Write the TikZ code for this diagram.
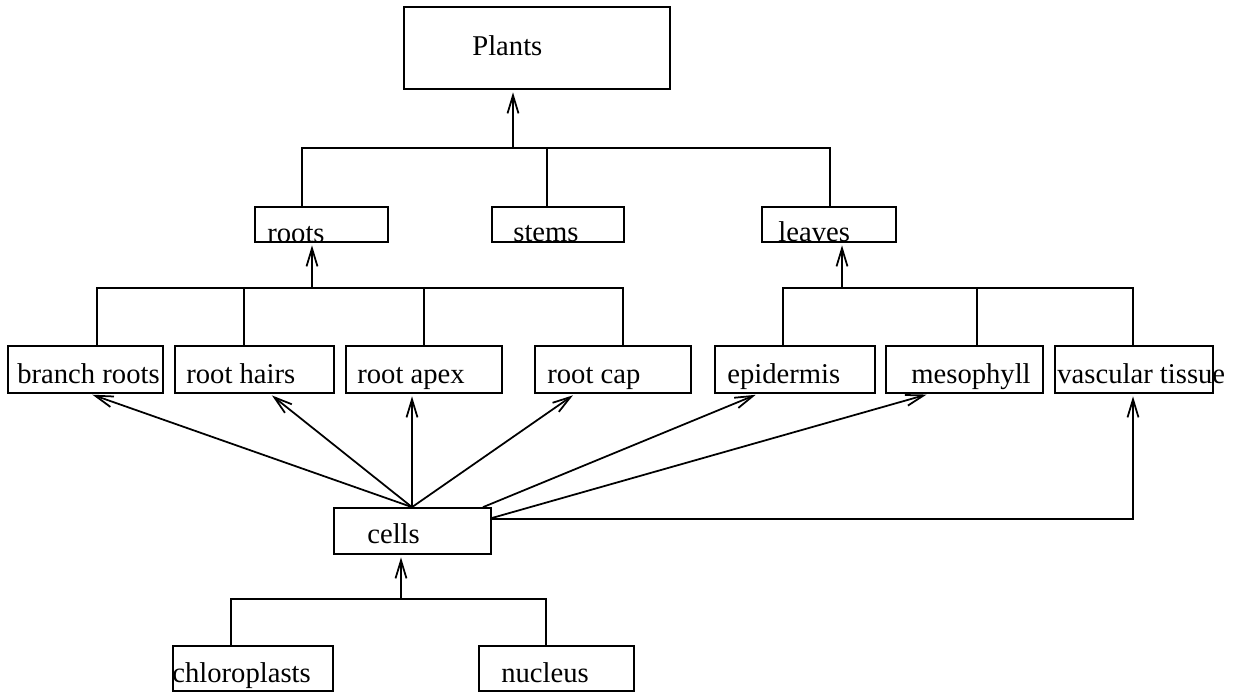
\documentclass[tikz,border=0pt]{standalone}
\usepackage{fontspec}
\setmainfont{Liberation Serif}
\usetikzlibrary{arrows.meta}
\begin{document}
\begin{tikzpicture}[x=0.02cm,y=-0.02cm,
  box/.style={draw, line width=1pt, inner sep=0pt},
  word/.style={anchor=base west, inner sep=0pt, font=\fontsize{16.3}{19}\selectfont},
  link/.style={line width=1pt},
  arr/.style={line width=1pt, shorten >=0.05cm, -{Straight Barb[length=3.6mm,width=2.2mm]}}]
\useasboundingbox (0,0) rectangle (1236,694);

% boxes
\node[box, minimum width=5.32cm, minimum height=1.64cm] (plants) at (537,48) {};
\node[box, minimum width=2.66cm, minimum height=0.70cm] (roots) at (321.5,224.5) {};
\node[box, minimum width=2.64cm, minimum height=0.70cm] (stems) at (558,224.5) {};
\node[box, minimum width=2.68cm, minimum height=0.70cm] (leaves) at (829,224.5) {};
\node[box, minimum width=3.10cm, minimum height=0.94cm] (branch) at (85.5,369.5) {};
\node[box, minimum width=3.18cm, minimum height=0.94cm] (hairs) at (254.5,369.5) {};
\node[box, minimum width=3.12cm, minimum height=0.94cm] (apex) at (424,369.5) {};
\node[box, minimum width=3.12cm, minimum height=0.94cm] (cap) at (613,369.5) {};
\node[box, minimum width=3.20cm, minimum height=0.94cm] (epi) at (795,369.5) {};
\node[box, minimum width=3.14cm, minimum height=0.94cm] (meso) at (964.5,369.5) {};
\node[box, minimum width=3.16cm, minimum height=0.94cm] (vasc) at (1134,369.5) {};
\node[box, minimum width=3.14cm, minimum height=0.92cm] (cells) at (412.5,531) {};
\node[box, minimum width=3.20cm, minimum height=0.90cm] (chloro) at (253,668.5) {};
\node[box, minimum width=3.10cm, minimum height=0.90cm] (nucleus) at (556.5,668.5) {};

% box texts
\node[word] (plants-t) at (472,55) {Plants};
\node[word] (roots-t) at (267,242) {roots};
\node[word] (stems-t) at (513,241) {stems};
\node[word] (leaves-t) at (778,241) {leaves};
\node[word] (branch-t) at (17,383) {branch roots};
\node[word] (hairs-t) at (186,383) {root hairs};
\node[word] (apex-t) at (357,383) {root apex};
\node[word] (cap-t) at (547,383) {root cap};
\node[word] (epi-t) at (727,383) {epidermis};
\node[word] (meso-t) at (911,383) {mesophyll};
\node[word] (vasc-t) at (1057,383) {vascular tissue};
\node[word] (cells-t) at (367,543) {cells};
\node[word] (chloro-t) at (172,682) {chloroplasts};
\node[word] (nucleus-t) at (501,682) {nucleus};

% roots, stems, leaves -> plants
\coordinate (b1w) at (302,148);
\coordinate (b1m) at (513,148);
\coordinate (b1s) at (547,148);
\coordinate (b1e) at (830,148);
\draw[link] (roots.north -| b1w) -- (b1w) -- (b1e) -- (leaves.north -| b1e);
\draw[link] (b1s) -- (stems.north -| b1s);
\draw[arr] (b1m) -- (plants.south -| b1m);

% root parts -> roots
\coordinate (b2w) at (97,288);
\coordinate (b2a) at (244,288);
\coordinate (b2m) at (312,288);
\coordinate (b2b) at (424,288);
\coordinate (b2e) at (623,288);
\draw[link] (branch.north -| b2w) -- (b2w) -- (b2e) -- (cap.north -| b2e);
\draw[link] (b2a) -- (hairs.north -| b2a);
\draw[link] (b2b) -- (apex.north -| b2b);
\draw[arr] (b2m) -- (roots.south -| b2m);

% leaf parts -> leaves
\coordinate (b3w) at (783,288);
\coordinate (b3m) at (842,288);
\coordinate (b3b) at (977,288);
\coordinate (b3e) at (1133,288);
\draw[link] (epi.north -| b3w) -- (b3w) -- (b3e) -- (vasc.north -| b3e);
\draw[link] (b3b) -- (meso.north -| b3b);
\draw[arr] (b3m) -- (leaves.south -| b3m);

% cells -> tissues
\coordinate (c0) at (412,508);
\draw[arr] (cells.north -| c0) -- (branch.south -| 90,0);
\draw[arr] (cells.north -| c0) -- (hairs.south -| 270,0);
\draw[arr] (cells.north -| c0) -- (apex.south -| c0);
\draw[arr] (cells.north -| c0) -- (cap.south -| 575,0);
\draw[arr] (cells.north -| 483,0) -- (epi.south -| 758,0);
\draw[arr] (cells.east |- 0,518) -- (meso.south -| 929,0);
\draw[arr] (cells.east |- 0,519) -| (vasc.south -| b3e);

% organelles -> cells
\coordinate (b4w) at (231,599);
\coordinate (b4m) at (401,599);
\coordinate (b4e) at (546,599);
\draw[link] (chloro.north -| b4w) -- (b4w) -- (b4e) -- (nucleus.north -| b4e);
\draw[arr] (b4m) -- (cells.south -| b4m);
\end{tikzpicture}
\end{document}
